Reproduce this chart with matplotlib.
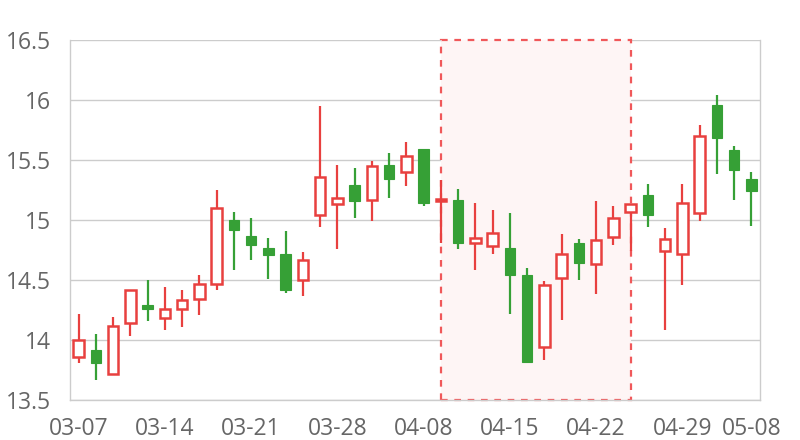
import numpy as np
import matplotlib
matplotlib.use("Agg")
import matplotlib.pyplot as plt
from matplotlib.patches import Rectangle

# trading days shown on the category axis
dates = ["03-07", "03-08", "03-11", "03-12", "03-13", "03-14", "03-15", "03-18", "03-19", "03-20",
         "03-21", "03-22", "03-25", "03-26", "03-27", "03-28", "03-29", "04-01", "04-02", "04-03",
         "04-08", "04-09", "04-10", "04-11", "04-12", "04-15", "04-16", "04-17", "04-18", "04-19",
         "04-22", "04-23", "04-24", "04-25", "04-26", "04-29", "04-30", "05-06", "05-07", "05-08"]

opens = [13.86, 13.92, 13.72, 14.14, 14.29, 14.18, 14.26, 14.34, 14.47, 15.00,
         14.87, 14.77, 14.72, 14.50, 15.04, 15.13, 15.29, 15.17, 15.46, 15.40,
         15.59, 15.16, 15.17, 14.81, 14.78, 14.77, 14.54, 13.94, 14.52, 14.81,
         14.63, 14.86, 15.07, 15.21, 14.74, 14.72, 15.06, 15.96, 15.58, 15.34]
closes = [14.00, 13.81, 14.12, 14.42, 14.26, 14.26, 14.33, 14.47, 15.10, 14.92,
          14.79, 14.71, 14.42, 14.67, 15.36, 15.18, 15.16, 15.45, 15.34, 15.53,
          15.14, 15.17, 14.81, 14.85, 14.89, 14.54, 13.82, 14.46, 14.72, 14.64,
          14.83, 15.02, 15.13, 15.04, 14.84, 15.14, 15.70, 15.68, 15.42, 15.24]
highs = [14.22, 14.05, 14.19, 14.42, 14.50, 14.44, 14.42, 14.54, 15.25, 15.07,
         15.02, 14.85, 14.91, 14.73, 15.95, 15.46, 15.43, 15.49, 15.56, 15.65,
         15.59, 15.33, 15.26, 15.14, 15.08, 15.06, 14.60, 14.49, 14.88, 14.84,
         15.16, 15.12, 15.13, 15.30, 14.93, 15.30, 15.79, 16.04, 15.62, 15.40]
lows = [13.81, 13.67, 13.72, 14.03, 14.16, 14.08, 14.11, 14.21, 14.42, 14.58,
        14.67, 14.51, 14.39, 14.37, 14.94, 14.76, 15.02, 14.99, 15.18, 15.28,
        15.12, 14.81, 14.76, 14.58, 14.72, 14.22, 13.82, 13.83, 14.17, 14.50,
        14.38, 14.79, 14.74, 14.94, 14.08, 14.46, 14.99, 15.38, 15.17, 14.95]

tick_idx = [0, 5, 10, 15, 20, 25, 30, 35, 39]
area_start, area_end = "04-09", "04-24"

red = "#e8403f"
green = "#36a036"

plt.rcParams["font.family"] = ["Open Sans", "DejaVu Sans"]

fig = plt.figure(figsize=(8, 4.4), dpi=100)
ax = fig.add_axes([70 / 800, 40 / 440, 690 / 800, 360 / 440])

x = np.arange(len(dates))
o = np.array(opens)
c = np.array(closes)
up = c >= o

# shaded mark area
a0, a1 = dates.index(area_start), dates.index(area_end)
ax.add_patch(Rectangle((a0, 13.5), a1 - a0, 3.0, facecolor="#fef5f5",
                       edgecolor="#f0585a", linestyle=(0, (3, 3)), linewidth=1.6,
                       zorder=1, clip_on=False))

# wicks
ax.vlines(x[up], np.array(lows)[up], np.array(highs)[up], color=red, linewidth=1.6, zorder=2)
ax.vlines(x[~up], np.array(lows)[~up], np.array(highs)[~up], color=green, linewidth=1.6, zorder=2)

# bodies
w = 0.62
ax.bar(x[up], np.maximum(c[up] - o[up], 0.012), bottom=o[up], width=w,
       facecolor="white", edgecolor=red, linewidth=1.8, zorder=3)
ax.bar(x[~up], o[~up] - c[~up], bottom=c[~up], width=w,
       facecolor=green, edgecolor=green, linewidth=0.8, zorder=3)

ax.set_xlim(-0.5, len(dates) - 0.5)
ax.set_ylim(13.5, 16.5)
ax.set_yticks([13.5, 14, 14.5, 15, 15.5, 16, 16.5])
ax.set_yticklabels(["13.5", "14", "14.5", "15", "15.5", "16", "16.5"])
ax.set_xticks(tick_idx)
ax.set_xticklabels([dates[i] for i in tick_idx])
ax.yaxis.grid(True, color="#cccccc", linewidth=1, zorder=0)
ax.set_axisbelow(True)

for side in ["left", "bottom", "right"]:
    ax.spines[side].set_color("#cccccc")
    ax.spines[side].set_linewidth(1)
ax.spines["top"].set_visible(False)

ax.tick_params(axis="both", length=0, labelsize=16.5, colors="#666666")
ax.tick_params(axis="y", pad=14)
ax.tick_params(axis="x", pad=12)

fig.savefig("out.png", dpi=100)
